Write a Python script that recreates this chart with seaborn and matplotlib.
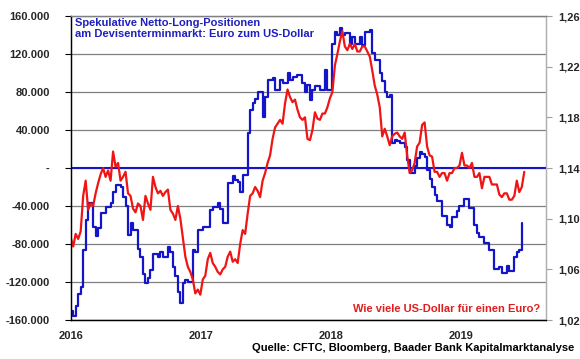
import matplotlib
matplotlib.use("Agg")
import matplotlib.pyplot as plt
import matplotlib.dates as mdates
import matplotlib.ticker as mticker
import pandas as pd
import seaborn as sns

# Weekly readings: CFTC net speculative positions (contracts) and EUR/USD
net_long = [
    -151000, -156000, -145000, -133000, -125000, -86000, -55000, -37000, -37000, -62000,
    -72000, -63000, -47000, -47000, -41000, -41000, -37000, -25000, -18000, -18000,
    -20000, -30000, -40000, -70000, -58000, -65000, -65000, -85000, -94000, -112000,
    -121000, -116000, -107000, -90000, -90000, -94000, -88000, -94000, -94000, -83000,
    -88000, -104000, -114000, -130000, -142000, -121000, -118000, -120000, -120000, -86000,
    -88000, -65000, -65000, -62000, -62000, -62000, -44000, -41000, -41000, -37000,
    -43000, -58000, -58000, -16000, -16000, -8000, -13000, -15000, -25000, -7000,
    -7000, 37000, 61000, 68000, 73000, 80000, 80000, 54000, 75000, 93000,
    93000, 95000, 82000, 82000, 93000, 90000, 90000, 100000, 93000, 96000,
    96000, 98000, 98000, 90000, 80000, 87000, 72000, 82000, 86000, 86000,
    82000, 82000, 103000, 82000, 82000, 131000, 143000, 140000, 147000, 140000,
    142000, 142000, 131000, 138000, 131000, 131000, 138000, 130000, 143000, 143000,
    145000, 121000, 114000, 114000, 100000, 92000, 80000, 75000, 77000, 26000,
    30000, 28000, 26000, 26000, 22000, 8000, -5000, -5000, 2000, 11000,
    17000, 15000, 12000, -2000, -12000, -20000, -28000, -35000, -35000, -50000,
    -50000, -60000, -62000, -52000, -52000, -45000, -40000, -40000, -33000, -33000,
    -42000, -42000, -60000, -68000, -73000, -73000, -79000, -79000, -86000, -86000,
    -106000, -106000, -104000, -111000, -111000, -103000, -108000, -108000, -94000, -88000,
    -86000, -58000,
]

eurusd = [
    1.085, 1.078, 1.088, 1.084, 1.090, 1.118, 1.130, 1.107, 1.112, 1.110,
    1.120, 1.128, 1.135, 1.140, 1.133, 1.138, 1.130, 1.153, 1.141, 1.144,
    1.130, 1.133, 1.137, 1.120, 1.118, 1.108, 1.105, 1.112, 1.110, 1.099,
    1.118, 1.112, 1.107, 1.133, 1.125, 1.120, 1.122, 1.118, 1.121, 1.123,
    1.107, 1.104, 1.099, 1.110, 1.100, 1.085, 1.070, 1.062, 1.058, 1.052,
    1.041, 1.044, 1.040, 1.052, 1.055, 1.068, 1.073, 1.065, 1.062, 1.058,
    1.056, 1.060, 1.062, 1.070, 1.074, 1.066, 1.068, 1.065, 1.080, 1.091,
    1.088, 1.104, 1.118, 1.120, 1.125, 1.122, 1.117, 1.130, 1.136, 1.144,
    1.150, 1.163, 1.172, 1.175, 1.178, 1.175, 1.191, 1.202, 1.196, 1.192,
    1.194, 1.186, 1.180, 1.178, 1.180, 1.163, 1.162, 1.170, 1.184, 1.179,
    1.178, 1.183, 1.183, 1.188, 1.195, 1.200, 1.221, 1.230, 1.240, 1.248,
    1.236, 1.233, 1.238, 1.234, 1.238, 1.232, 1.232, 1.236, 1.236, 1.232,
    1.228, 1.217, 1.205, 1.198, 1.188, 1.165, 1.171, 1.165, 1.158, 1.165,
    1.167, 1.168, 1.165, 1.163, 1.168, 1.150, 1.136, 1.138, 1.144, 1.157,
    1.160, 1.174, 1.176, 1.157, 1.150, 1.149, 1.137, 1.137, 1.133, 1.136,
    1.136, 1.130, 1.136, 1.136, 1.140, 1.140, 1.142, 1.152, 1.142, 1.142,
    1.140, 1.144, 1.133, 1.133, 1.136, 1.124, 1.133, 1.133, 1.133, 1.127,
    1.127, 1.127, 1.119, 1.117, 1.120, 1.120, 1.115, 1.115, 1.118, 1.130,
    1.121, 1.125, 1.137,
]

left_ticks = [-160000, -120000, -80000, -40000, 0, 40000, 80000, 120000, 160000]
right_ticks = [1.02, 1.06, 1.10, 1.14, 1.18, 1.22, 1.26]
years = ["2016", "2017", "2018", "2019"]

title = "Spekulative Netto-Long-Positionen\nam Devisenterminmarkt: Euro zum US-Dollar"
note = "Wie viele US-Dollar für einen Euro?"
source = "Quelle: CFTC, Bloomberg, Baader Bank Kapitalmarktanalyse"

BLUE = "#1414C8"
RED = "#F01414"
GRID = "#808080"

sns.set_style("white")
plt.rcParams["font.family"] = ["Liberation Sans", "DejaVu Sans"]
plt.rcParams["font.weight"] = "bold"

cftc = pd.DataFrame({
    "date": pd.date_range("2016-01-01", periods=len(net_long), freq="7D"),
    "net_long": net_long,
})
fx = pd.DataFrame({
    "date": pd.date_range("2016-01-01", periods=len(eurusd), freq="7D"),
    "eurusd": eurusd,
})

fig = plt.figure(figsize=(5.8, 3.59), dpi=100)
ax = fig.add_axes([0.1219, 0.1086, 0.8195, 0.8468])
ax2 = ax.twinx()

sns.lineplot(data=cftc, x="date", y="net_long", ax=ax, color=BLUE, lw=1.6,
             drawstyle="steps-post", estimator=None)
sns.lineplot(data=fx, x="date", y="eurusd", ax=ax2, color=RED, lw=1.6, estimator=None)

ax.axhline(0, color=BLUE, lw=1.5, zorder=3)

# left axis
ax.set_ylim(-160000, 160000)
ax.set_yticks(left_ticks)
ax.yaxis.set_major_formatter(mticker.FuncFormatter(
    lambda v, _: "-" if v == 0 else f"{int(v):,}".replace(",", ".")))
ax.yaxis.grid(True, color=GRID, lw=0.9)
ax.set_axisbelow(True)
ax.tick_params(axis="y", direction="out", length=4, width=0.8, color="black",
               pad=11, labelsize=8)

# x axis
ax.set_xlim(pd.Timestamp("2016-01-01"), pd.Timestamp("2019-08-28"))
ax.set_xticks([pd.Timestamp(y + "-01-01") for y in years])
ax.xaxis.set_major_formatter(mdates.DateFormatter("%Y"))
ax.tick_params(axis="x", direction="out", length=4, width=0.8, color="black",
               pad=4, labelsize=8)
ax.set_xlabel("")
ax.set_ylabel("")

# right axis
ax2.set_ylim(1.02, 1.26)
ax2.set_yticks(right_ticks)
ax2.yaxis.set_major_formatter(mticker.FuncFormatter(
    lambda v, _: f"{v:.2f}".replace(".", ",")))
ax2.tick_params(axis="y", direction="out", length=4, width=0.8, color="#A0A0A0",
                pad=5, labelsize=8)
ax2.set_ylabel("")
ax2.grid(False)

for a in (ax, ax2):
    a.spines["left"].set_color("black")
    a.spines["bottom"].set_color("black")
    a.spines["top"].set_color(GRID)
    a.spines["right"].set_color("#B0B0B0")
    for s in a.spines.values():
        s.set_linewidth(0.9)

ax.text(0.009, 0.993, title, transform=ax.transAxes, ha="left", va="top",
        color="#1F1FBF", fontsize=8, fontweight="bold", linespacing=1.15)
ax.text(0.987, 0.036, note, transform=ax.transAxes, ha="right", va="center",
        color="#E01E1E", fontsize=8, fontweight="bold")
fig.text(0.9897, 0.0306, source, ha="right", va="center", color="black",
         fontsize=8, fontweight="bold")

fig.savefig("out.png", dpi=100)
